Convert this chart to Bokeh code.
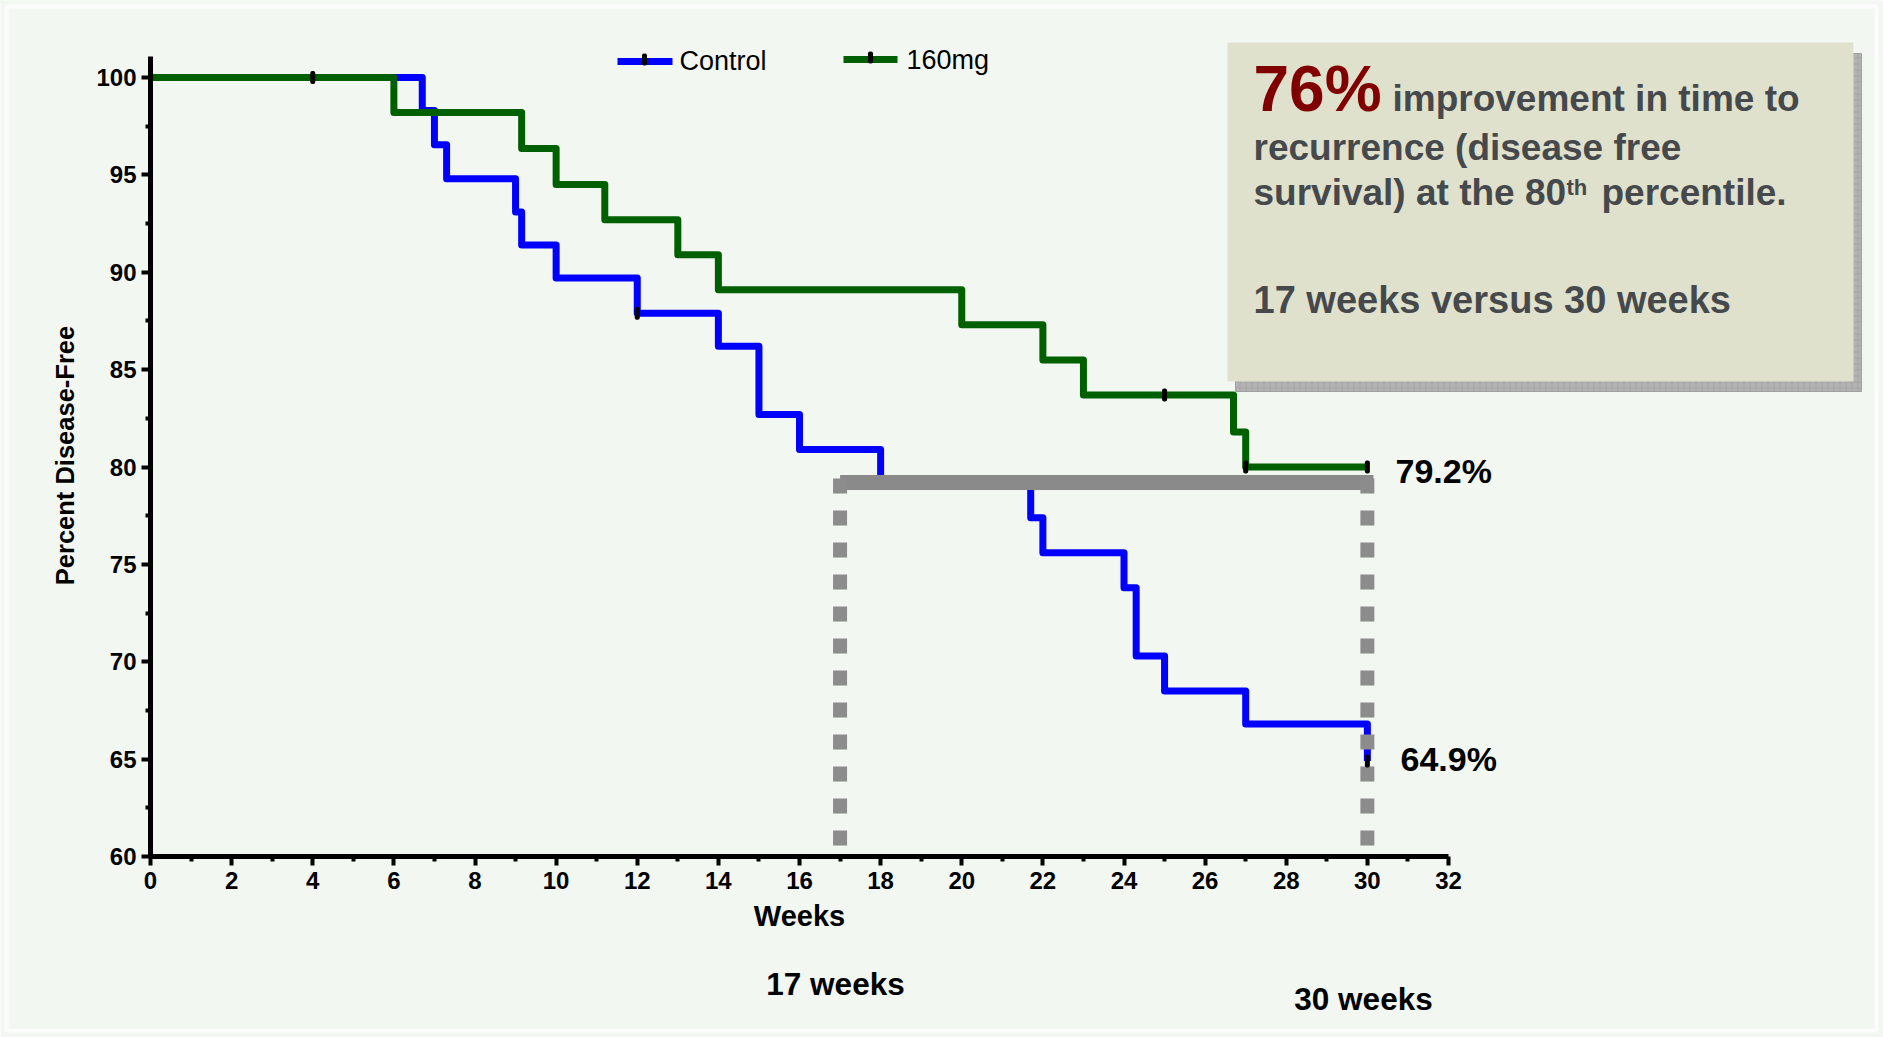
import math
from bokeh.plotting import figure
from bokeh.models import Range1d, LinearAxis, FixedTicker
from bokeh.core.properties import value
from bokeh.embed import file_html
from bokeh.resources import INLINE

# ---------------- data ----------------
series_names = ["Control", "160mg"]
control_weeks = [0, 6.7, 7.0, 7.3, 9.0, 9.15, 10, 12, 14, 15, 16, 18, 21.7, 22, 24, 24.3, 25, 27, 30]
control_pct = [100, 98.3, 96.55, 94.8, 93.1, 91.4, 89.7, 87.9, 86.2, 82.7, 80.9, 79.2, 77.4, 75.6, 73.8, 70.3, 68.5, 66.8, 64.9]
drug_weeks = [0, 6, 9.15, 10, 11.2, 13, 14, 20, 22, 23, 26.7, 27, 30]
drug_pct = [100, 98.2, 96.35, 94.5, 92.7, 90.9, 89.1, 87.3, 85.5, 83.7, 81.8, 80.0, 80.0]
control_censor_weeks = [4, 12, 30]
control_censor_pct = [100, 87.9, 64.9]
drug_censor_weeks = [25, 27, 30]
drug_censor_pct = [83.7, 80.0, 80.0]
x_ticks = list(range(0, 33, 2))
x_minor = list(range(1, 32, 2))
y_ticks = list(range(60, 101, 5))
y_minor = [62.5, 67.5, 72.5, 77.5, 82.5, 87.5, 92.5, 97.5]
pct80_level = 79.2
pct80_weeks = [17, 30]
end_labels = ["79.2%", "64.9%"]
week_labels = ["17 weeks", "30 weeks"]

# ---------------- geometry helpers (page pixels -> data) ----------------
W, H, OFF = 1883, 1037, 0
X0_PX, X32_PX = 150.0, 1448.0
Y100_PX, Y60_PX = 77.0, 856.0
PPW = (X32_PX - X0_PX) / 32.0
PPU = (Y60_PX - Y100_PX) / 40.0
BL_SHIFT = 0.35  # em correction for the text baseline


def wx(px):
    return (px - X0_PX) / PPW


def vy(py):
    return 100.0 - (py - Y100_PX) / PPU


def bl(py, fs):
    """data y for a text whose visual baseline sits at page pixel py"""
    return vy(py - BL_SHIFT * fs)


BG = "#f3f7f1"
FONT = value("Liberation Sans")
BOXTXT = "#46494c"

p = figure(width=W, height=H,
           x_range=Range1d(wx(OFF), wx(OFF + W)),
           y_range=Range1d(vy(OFF + H), vy(OFF)),
           x_axis_type=None, y_axis_type=None,
           output_backend="svg", toolbar_location=None,
           min_border=0, outline_line_color=None,
           background_fill_color=BG, border_fill_color=BG)

# faint slide frame
p.quad(left=[wx(6)], right=[wx(1876)], top=[vy(6)], bottom=[vy(1030)],
       fill_color=None, line_color="#fbfcfb", line_width=4)

# ---------------- axes ----------------
def style_axis(ax):
    ax.axis_line_width = 5
    ax.axis_line_color = "black"
    ax.major_tick_line_width = 4
    ax.minor_tick_line_width = 4
    ax.major_tick_in = 0
    ax.minor_tick_in = 0
    ax.major_tick_out = 9
    ax.minor_tick_out = 5
    ax.major_label_text_font = "Liberation Sans"
    ax.major_label_text_font_style = "bold"
    ax.major_label_text_font_size = "24px"
    ax.major_label_text_color = "black"


xaxis = LinearAxis(fixed_location=60, bounds=(0, 32),
                   ticker=FixedTicker(ticks=x_ticks, minor_ticks=x_minor))
style_axis(xaxis)
xaxis.major_label_standoff = 6
p.add_layout(xaxis, "below")

yaxis = LinearAxis(fixed_location=0, bounds=(60, vy(56)),
                   ticker=FixedTicker(ticks=y_ticks, minor_ticks=y_minor))
style_axis(yaxis)
yaxis.major_label_standoff = 5
p.add_layout(yaxis, "left")

# ---------------- curves ----------------
p.step(control_weeks, control_pct, mode="after", line_color="#0000ff",
       line_width=7, line_join="round")
p.step(drug_weeks, drug_pct, mode="after", line_color="#006000",
       line_width=7, line_join="round")

# 80th percentile bar and dotted drop lines
p.segment(x0=[pct80_weeks[0]], y0=[pct80_level], x1=[pct80_weeks[1] + 0.15],
          y1=[pct80_level], line_width=15, line_color="#8a8a8a", line_cap="butt")
p.segment(x0=pct80_weeks, y0=[vy(478)] * 2, x1=pct80_weeks, y1=[60, 60],
          line_width=14, line_color="#8c8c8c", line_dash="15 17", line_cap="butt")

# censor marks
p.rect(x=control_censor_weeks + drug_censor_weeks,
       y=control_censor_pct + drug_censor_pct,
       width=5, height=13, width_units="screen", height_units="screen",
       fill_color="black", line_color=None, border_radius=2)

# ---------------- legend (drawn) ----------------
p.segment(x0=[wx(617)], y0=[vy(61)], x1=[wx(672)], y1=[vy(61)],
          line_width=7, line_color="#0000ff")
p.segment(x0=[wx(843)], y0=[vy(59)], x1=[wx(897)], y1=[vy(59)],
          line_width=7, line_color="#006000")
p.rect(x=[wx(644), wx(870)], y=[vy(59), vy(57)], width=5, height=12,
       width_units="screen", height_units="screen", fill_color="black",
       line_color=None, border_radius=2)
p.text(x=[wx(679), wx(906)], y=[bl(70, 27), bl(68.5, 27)], text=series_names,
       text_font=FONT, text_font_size=value("27px"), text_color="black",
       text_baseline="alphabetic", text_align="left")

# ---------------- axis titles ----------------
p.text(x=[wx(799)], y=[bl(926, 29)], text=["Weeks"], text_font=FONT,
       text_font_style="bold", text_font_size=value("29px"), text_color="black",
       text_align="center", text_baseline="alphabetic")
p.text(x=[wx(73 - BL_SHIFT * 25.5)], y=[vy(455)], text=["Percent Disease-Free"],
       angle=math.pi / 2, text_font=FONT, text_font_style="bold",
       text_font_size=value("25.5px"), text_color="black", text_align="center",
       text_baseline="alphabetic")

# ---------------- annotations ----------------
p.text(x=[wx(835), wx(1363)], y=[bl(995, 31.5), bl(1010, 31.5)], text=week_labels,
       text_font=FONT, text_font_style="bold", text_font_size=value("31.5px"),
       text_color="black", text_align="center", text_baseline="alphabetic")
p.text(x=[wx(1395), wx(1400)], y=[bl(482, 34), bl(770, 34)], text=end_labels,
       text_font=FONT, text_font_style="bold", text_font_size=value("34px"),
       text_color="black", text_align="left", text_baseline="alphabetic")

# text box with shadow
p.quad(left=[wx(1235)], right=[wx(1861)], top=[vy(53)], bottom=[vy(391)],
       fill_color="#b3b3b3", line_color="#a0a0a0", hatch_pattern="+",
       hatch_color="#9a9a9a", hatch_scale=6, hatch_weight=0.6)
p.quad(left=[wx(1227)], right=[wx(1853)], top=[vy(42)], bottom=[vy(381)],
       fill_color="#e0e1cc", line_color=None)

p.text(x=[wx(1253)], y=[bl(111, 64)], text=["76%"], text_font=FONT,
       text_font_style="bold", text_font_size=value("64px"), text_color="#800000",
       text_baseline="alphabetic")
p.text(x=[wx(1392), wx(1253), wx(1253), wx(1601)],
       y=[bl(111, 37), bl(160, 37), bl(205, 37), bl(205, 37)],
       text=["improvement in time to", "recurrence (disease free",
             "survival) at the 80", "percentile."],
       text_font=FONT, text_font_style="bold", text_font_size=value("37px"),
       text_color=BOXTXT, text_baseline="alphabetic")
p.text(x=[wx(1566)], y=[bl(195, 22)], text=["th"], text_font=FONT,
       text_font_style="bold", text_font_size=value("22px"), text_color=BOXTXT,
       text_baseline="alphabetic")
p.text(x=[wx(1253)], y=[bl(313, 38)], text=["17 weeks versus 30 weeks"], text_font=FONT,
       text_font_style="bold", text_font_size=value("38px"), text_color=BOXTXT,
       text_baseline="alphabetic")

open("out.html", "w").write(file_html(p, INLINE))
